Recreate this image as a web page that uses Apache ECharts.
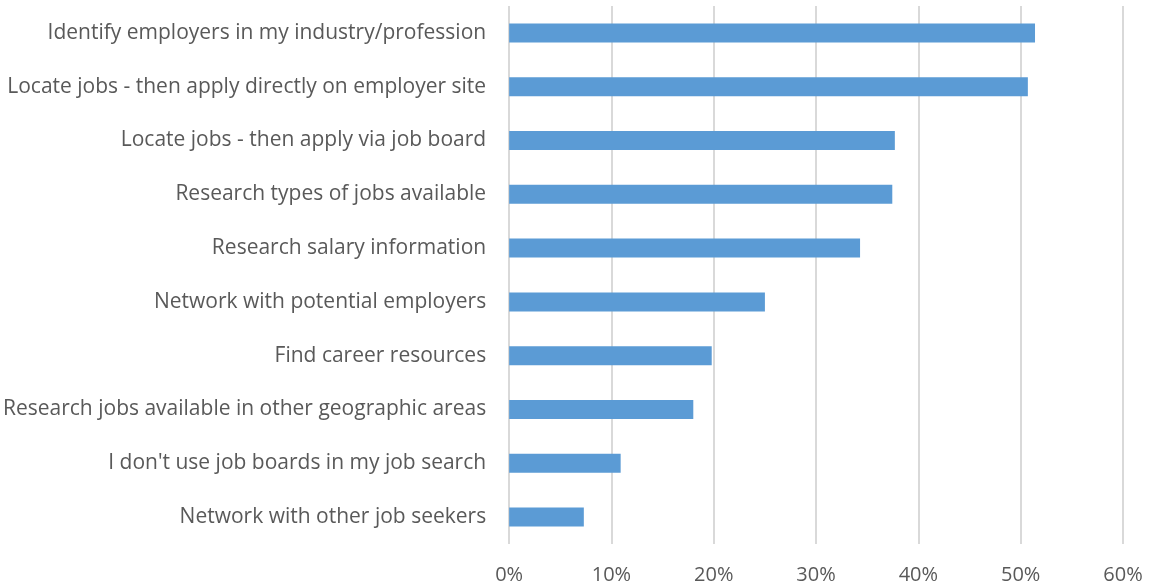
<!DOCTYPE html>
<html>
<head>
<meta charset="utf-8">
<script src="https://cdn.jsdelivr.net/npm/echarts@6/dist/echarts.min.js"></script>
<style>
  html, body { margin: 0; padding: 0; background: #ffffff; }
  #chart { width: 1149px; height: 587px; }
</style>
</head>
<body>
<div id="chart"></div>
<script>
// How job seekers use job boards (share of respondents)
const categories = [
  "Identify employers in my industry/profession",
  "Locate jobs - then apply directly on employer site",
  "Locate jobs - then apply via job board",
  "Research types of jobs available",
  "Research salary information",
  "Network with potential employers",
  "Find career resources",
  "Research jobs available in other geographic areas",
  "I don't use job boards in my job search",
  "Network with other job seekers"
];
const shares = [51.4, 50.7, 37.7, 37.45, 34.3, 25.0, 19.8, 18.0, 10.9, 7.3];
const tickStep = 10;
const axisMax = 60;

const fontFamily = "'Open Sans', 'Noto Sans', sans-serif";
const textColor = "#595959";

const chart = echarts.init(document.getElementById('chart'), null, { renderer: 'canvas' });
chart.setOption({
  animation: false,
  backgroundColor: '#ffffff',
  grid: { left: 508, right: 26, top: 6, bottom: 43, containLabel: false },
  xAxis: {
    type: 'value',
    min: 0,
    max: axisMax,
    interval: tickStep,
    axisLine: { show: false },
    axisTick: { show: false },
    splitLine: { show: true, lineStyle: { color: '#d9d9d9', width: 2 } },
    axisLabel: {
      formatter: v => v + '%',
      color: textColor,
      fontFamily: fontFamily,
      fontSize: 20,
      margin: 21
    }
  },
  yAxis: {
    type: 'category',
    data: categories,
    inverse: true,
    axisLine: { show: false },
    axisTick: { show: false },
    axisLabel: {
      color: textColor,
      fontFamily: fontFamily,
      fontSize: 21,
      margin: 23
    }
  },
  series: [{
    type: 'bar',
    data: shares,
    barWidth: 19,
    itemStyle: { color: '#5b9bd5' }
  }]
});
</script>
</body>
</html>
